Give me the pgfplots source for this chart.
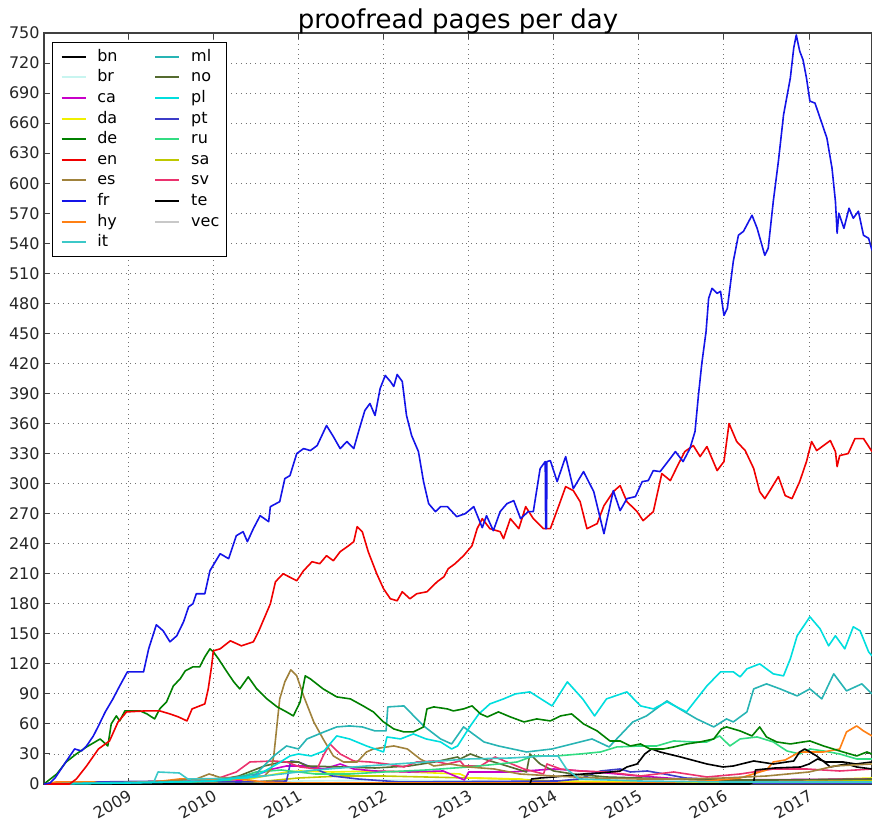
\documentclass[border=0pt]{standalone}
\usepackage{fontspec}
\setmainfont{DejaVu Sans}
\usepackage{pgfplots}
\pgfplotsset{compat=1.18}
\definecolor{cbn}{RGB}{0,0,0}
\definecolor{cbr}{RGB}{200,245,240}
\definecolor{cca}{RGB}{200,0,200}
\definecolor{cda}{RGB}{240,240,0}
\definecolor{cde}{RGB}{0,128,0}
\definecolor{cen}{RGB}{240,0,0}
\definecolor{ces}{RGB}{160,130,60}
\definecolor{cfr}{RGB}{20,20,232}
\definecolor{chy}{RGB}{255,128,20}
\definecolor{cit}{RGB}{60,200,200}
\definecolor{cml}{RGB}{40,180,180}
\definecolor{cno}{RGB}{85,107,47}
\definecolor{cpl}{RGB}{0,222,222}
\definecolor{cpt}{RGB}{60,60,200}
\definecolor{cru}{RGB}{50,220,130}
\definecolor{csa}{RGB}{190,200,0}
\definecolor{csv}{RGB}{235,50,110}
\definecolor{cte}{RGB}{0,0,0}
\definecolor{cvec}{RGB}{200,200,200}
\begin{document}
\begin{tikzpicture}
\begin{axis}[
  at={(0,0)}, anchor=south west,
  scale only axis, width=414pt, height=375.5pt,
  xmin=2008.01, xmax=2017.74, ymin=0, ymax=750,
  xtick={2009,2010,2011,2012,2013,2014,2015,2016,2017},
  ytick={0,30,...,750},
  /pgf/number format/1000 sep={},
  /pgf/number format/assume math mode=true,
  ticklabel style={font=\fontsize{8}{9.6}\selectfont, black!85},
  xticklabel style={rotate=30, anchor=north east, inner sep=1.5pt},
  yticklabel style={inner sep=2pt},
  grid=major,
  major grid style={dotted, black!55, line width=0.45pt},
  tick align=inside, major tick length=3pt,
  tick style={black!75, line width=0.5pt},
  axis line style={black!75, line width=0.9pt},
  title={proofread pages per day},
  title style={anchor=base, yshift=-3.5pt, inner sep=0pt, font=\fontsize{13}{15}\selectfont},
  every axis plot/.append style={line width=0.8pt, line join=round},
  legend columns=2,
  legend cell align=left,
  legend image code/.code={\path (0pt,0pt); \draw[#1, line width=1pt] (2.5pt,0pt) -- (14.5pt,0pt); \path (18pt,0pt);},
  legend style={at={(0.0097,0.988)}, anchor=north west, draw=black, fill=white,
    line width=0.7pt,
    font=\fontsize{8}{9}\selectfont, column sep=0pt, row sep=0.2pt,
    inner xsep=1.5pt, inner ysep=2pt,
    nodes={inner ysep=1pt, text height=6.3pt, text depth=1.8pt},
    /tikz/every even column/.append style={column sep=14pt}},
]
% ---------- small series ----------
\addplot[cvec, forget plot] coordinates {(2008.01,0) (2011,1) (2013,2) (2015,1) (2017.74,2)};
\addplot[cbr, forget plot] coordinates {(2008.01,0) (2010.5,1) (2011,3) (2012,4) (2013,3) (2014,2) (2017.74,1)};
\addplot[csa, forget plot] coordinates {(2008.01,0) (2010.5,2) (2011,6) (2011.5,8) (2012,8) (2012.5,7) (2013,6) (2013.5,5) (2014,3) (2015,2) (2016,2) (2017,3) (2017.74,4)};
\addplot[cda, forget plot] coordinates {(2008.01,0) (2010.3,3) (2010.86,12) (2011.02,13) (2011.4,12) (2011.9,13) (2012.3,12) (2012.9,10) (2013.0,6) (2013.6,5) (2013.85,2) (2016.5,2) (2016.97,4) (2017.74,6)};
\addplot[cca, forget plot] coordinates {(2008.01,0) (2010.3,3) (2010.7,15) (2010.86,18) (2011.1,18) (2011.3,15) (2011.49,20) (2011.65,15) (2011.9,13) (2012.3,12) (2012.7,13) (2012.95,4) (2013.0,12) (2013.5,12) (2014.0,15) (2014.5,12) (2015,8) (2015.5,5) (2016,4) (2017.74,5)};
\addplot[cpt, forget plot] coordinates {(2008.01,0) (2008.6,2) (2009.5,3) (2010.3,2) (2010.86,3) (2010.89,15) (2010.91,23) (2011.0,22) (2011.2,15) (2011.4,8) (2011.7,5) (2012.2,2) (2014.04,3) (2014.3,5) (2014.55,13) (2014.78,15) (2014.9,12) (2015.1,13) (2015.3,10) (2015.55,6) (2015.8,5) (2016.1,3) (2016.3,1) (2017.74,1)};
\addplot[cno, forget plot] coordinates {(2008.01,0) (2009.5,1) (2010.0,3) (2010.3,8) (2010.6,18) (2010.8,22) (2011.0,22) (2011.1,18) (2011.5,17) (2011.9,16) (2012.3,18) (2012.6,22) (2012.87,27) (2012.9,25) (2013.02,30) (2013.18,25) (2013.45,18) (2013.68,12) (2013.72,30) (2013.84,20) (2014.0,13) (2014.23,10) (2014.62,7) (2015.02,6) (2015.8,4) (2016.58,4) (2017.74,5)};
\addplot[csv, forget plot] coordinates {(2008.01,0) (2009.5,1) (2010.0,4) (2010.27,12) (2010.43,22) (2010.71,23) (2010.86,22) (2011.02,17) (2011.22,15) (2011.29,28) (2011.37,40) (2011.49,30) (2011.65,23) (2011.84,22) (2012.04,20) (2012.24,17) (2012.39,22) (2012.59,23) (2012.75,20) (2012.90,23) (2012.95,18) (2013.14,18) (2013.31,27) (2013.45,22) (2013.65,15) (2013.88,10) (2013.92,20) (2014.08,15) (2014.31,13) (2014.62,12) (2015.02,8) (2015.41,12) (2015.80,7) (2016.19,10) (2016.58,15) (2016.97,15) (2017.36,13) (2017.74,15)};
\addplot[cru, forget plot] coordinates {(2008.01,0) (2009.5,1) (2010.2,4) (2010.5,12) (2010.8,14) (2011.2,10) (2011.6,10) (2012.0,12) (2012.5,14) (2013.0,17) (2013.35,20) (2013.57,22) (2013.76,28) (2014.03,28) (2014.31,30) (2014.55,32) (2014.74,37) (2015.02,38) (2015.21,38) (2015.41,43) (2015.64,42) (2015.80,42) (2015.95,48) (2016.07,38) (2016.19,45) (2016.39,47) (2016.58,42) (2016.74,33) (2016.89,30) (2017.01,35) (2017.17,33) (2017.36,30) (2017.56,25) (2017.74,25)};
\addplot[chy, forget plot] coordinates {(2008.01,0) (2008.15,2) (2008.6,2) (2008.7,0) (2009.4,3) (2009.6,5) (2010.3,5) (2010.6,2) (2011,1) (2015,1) (2015.8,3) (2016.19,6) (2016.50,14) (2016.58,22) (2016.72,24) (2016.89,32) (2017.17,32) (2017.36,35) (2017.44,52) (2017.56,58) (2017.64,53) (2017.74,48)};
\addplot[cbn, forget plot] coordinates {(2008.01,0) (2016.3,0) (2016.35,2) (2016.37,14) (2016.6,16) (2016.9,17) (2017.0,20) (2017.1,25) (2017.2,22) (2017.4,22) (2017.55,20) (2017.74,22)};
\addplot[cte, forget plot] coordinates {(2008.01,0) (2013.72,0) (2013.74,5) (2013.84,6) (2014.0,7) (2014.35,10) (2014.55,11) (2014.78,13) (2014.86,17) (2014.98,20) (2015.07,30) (2015.15,35) (2015.25,32) (2015.49,27) (2015.80,20) (2015.99,17) (2016.11,18) (2016.35,23) (2016.58,20) (2016.82,23) (2016.89,32) (2016.95,35) (2017.09,28) (2017.25,17) (2017.44,20) (2017.56,17) (2017.74,15)};
\addplot[ces, forget plot] coordinates {(2008.01,0) (2009.3,2) (2009.8,5) (2009.95,10) (2010.1,6) (2010.6,8) (2010.68,15) (2010.71,28) (2010.78,85) (2010.84,102) (2010.91,114) (2010.98,108) (2011.06,88) (2011.18,62) (2011.29,45) (2011.41,28) (2011.53,22) (2011.69,22) (2011.80,32) (2011.88,35) (2012.12,38) (2012.28,35) (2012.43,25) (2012.59,18) (2012.78,20) (2013.0,17) (2013.3,15) (2013.6,10) (2014,8) (2014.5,6) (2015,5) (2015.5,5) (2016,6) (2016.5,8) (2017,12) (2017.3,18) (2017.74,20)};
\addplot[cit, forget plot] coordinates {(2008.01,0) (2009.3,2) (2009.35,12) (2009.6,11) (2009.7,5) (2010.4,6) (2010.8,10) (2011.2,14) (2011.8,18) (2012.5,22) (2013.0,25) (2013.5,26) (2013.9,28) (2014.05,28) (2014.15,15) (2014.3,5) (2015,3) (2016,2) (2017.74,2)};
\addplot[cml, forget plot] coordinates {(2008.01,0) (2009,1) (2010,3) (2010.5,10) (2010.71,28) (2010.86,38) (2011.0,35) (2011.1,45) (2011.3,52) (2011.45,57) (2011.6,58) (2011.75,57) (2011.9,53) (2012.03,53) (2012.05,77) (2012.24,78) (2012.47,58) (2012.67,45) (2012.80,40) (2012.94,57) (2013.18,42) (2013.35,38) (2013.68,32) (2013.98,35) (2014.45,45) (2014.65,37) (2014.93,62) (2015.09,68) (2015.33,83) (2015.48,75) (2015.68,65) (2015.88,57) (2016.03,65) (2016.11,62) (2016.27,72) (2016.35,95) (2016.50,100) (2016.66,95) (2016.86,88) (2017.01,95) (2017.15,85) (2017.29,110) (2017.44,93) (2017.62,100) (2017.74,90)};
\addplot[cpl, forget plot] coordinates {(2008.01,0) (2009.0,1) (2010.0,3) (2010.5,8) (2010.75,20) (2010.9,28) (2011.0,30) (2011.15,28) (2011.3,33) (2011.45,48) (2011.6,45) (2011.8,38) (2012.0,32) (2012.04,47) (2012.2,45) (2012.35,50) (2012.5,45) (2012.67,42) (2012.8,35) (2012.87,38) (2013.02,58) (2013.12,70) (2013.25,80) (2013.41,85) (2013.55,90) (2013.72,92) (2013.98,78) (2014.16,102) (2014.34,85) (2014.48,68) (2014.62,85) (2014.86,92) (2015.02,78) (2015.17,75) (2015.33,82) (2015.56,72) (2015.68,85) (2015.80,98) (2015.96,112) (2016.11,112) (2016.19,107) (2016.27,115) (2016.42,120) (2016.58,110) (2016.70,108) (2016.78,125) (2016.86,148) (2017.01,167) (2017.13,155) (2017.23,138) (2017.31,148) (2017.42,135) (2017.52,157) (2017.60,153) (2017.70,132) (2017.74,128)};
\addplot[cde, forget plot] coordinates {(2008.01,0) (2008.16,10) (2008.27,22) (2008.39,30) (2008.51,37) (2008.67,45) (2008.76,38) (2008.80,60) (2008.86,68) (2008.90,63) (2008.96,73) (2009.14,73) (2009.22,70) (2009.31,65) (2009.37,75) (2009.45,82) (2009.53,98) (2009.61,105) (2009.67,113) (2009.76,117) (2009.84,117) (2009.90,127) (2009.96,135) (2010.00,132) (2010.06,125) (2010.16,112) (2010.24,102) (2010.31,95) (2010.41,107) (2010.51,95) (2010.63,85) (2010.75,77) (2010.86,72) (2010.94,68) (2011.02,82) (2011.08,108) (2011.14,105) (2011.29,95) (2011.45,87) (2011.61,85) (2011.76,78) (2011.88,72) (2012.00,62) (2012.12,55) (2012.24,52) (2012.35,52) (2012.47,57) (2012.51,75) (2012.59,77) (2012.75,75) (2012.82,73) (2012.94,75) (2013.04,78) (2013.14,70) (2013.22,67) (2013.35,72) (2013.49,67) (2013.65,62) (2013.80,65) (2013.96,63) (2014.08,68) (2014.21,70) (2014.35,60) (2014.51,53) (2014.66,43) (2014.78,43) (2014.90,38) (2015.02,40) (2015.13,35) (2015.29,35) (2015.41,37) (2015.56,40) (2015.72,42) (2015.88,45) (2015.97,55) (2016.03,57) (2016.19,53) (2016.33,48) (2016.42,57) (2016.50,47) (2016.62,42) (2016.78,40) (2016.93,42) (2017.01,43) (2017.17,38) (2017.36,33) (2017.56,28) (2017.68,32) (2017.74,30)};
\addplot[cen, forget plot] coordinates {(2008.01,0) (2008.31,0) (2008.39,5) (2008.51,18) (2008.65,35) (2008.78,43) (2008.88,62) (2008.98,72) (2009.20,73) (2009.37,73) (2009.49,70) (2009.59,67) (2009.69,63) (2009.75,75) (2009.90,80) (2009.94,95) (2009.98,118) (2010.00,133) (2010.08,135) (2010.20,143) (2010.33,138) (2010.47,142) (2010.53,152) (2010.63,172) (2010.67,180) (2010.73,202) (2010.82,210) (2010.98,203) (2011.06,213) (2011.16,222) (2011.25,220) (2011.33,228) (2011.41,223) (2011.49,232) (2011.59,238) (2011.65,242) (2011.69,257) (2011.75,252) (2011.82,232) (2011.92,210) (2012.00,195) (2012.08,185) (2012.16,183) (2012.22,192) (2012.31,185) (2012.39,190) (2012.51,192) (2012.63,202) (2012.71,207) (2012.76,215) (2012.84,220) (2012.94,228) (2013.04,238) (2013.10,255) (2013.16,265) (2013.25,255) (2013.37,252) (2013.41,245) (2013.49,265) (2013.59,255) (2013.67,277) (2013.76,265) (2013.88,255) (2013.96,255) (2014.06,278) (2014.14,297) (2014.23,293) (2014.31,282) (2014.39,255) (2014.51,260) (2014.59,278) (2014.70,292) (2014.78,298) (2014.86,282) (2014.98,272) (2015.05,263) (2015.17,272) (2015.27,310) (2015.37,303) (2015.45,317) (2015.54,332) (2015.64,338) (2015.72,327) (2015.80,337) (2015.92,313) (2016.00,322) (2016.06,360) (2016.15,342) (2016.25,333) (2016.35,315) (2016.42,292) (2016.48,285) (2016.54,293) (2016.64,307) (2016.72,288) (2016.80,285) (2016.89,302) (2016.97,322) (2017.03,342) (2017.09,333) (2017.17,338) (2017.25,343) (2017.31,332) (2017.33,317) (2017.36,328) (2017.46,330) (2017.54,345) (2017.64,345) (2017.74,332)};
\addplot[cfr, forget plot] coordinates {(2008.01,0) (2008.08,1) (2008.14,6) (2008.25,20) (2008.37,35) (2008.45,33) (2008.51,38) (2008.59,48) (2008.65,58) (2008.73,72) (2008.82,85) (2008.90,98) (2008.99,112) (2009.18,112) (2009.24,135) (2009.33,159) (2009.41,153) (2009.49,142) (2009.57,148) (2009.65,162) (2009.71,177) (2009.76,180) (2009.80,190) (2009.90,190) (2009.96,213) (2010.08,230) (2010.18,225) (2010.27,248) (2010.35,252) (2010.40,242) (2010.47,255) (2010.55,268) (2010.65,262) (2010.67,277) (2010.78,282) (2010.84,305) (2010.90,308) (2010.98,330) (2011.06,335) (2011.14,333) (2011.22,338) (2011.33,358) (2011.41,347) (2011.49,335) (2011.57,342) (2011.65,335) (2011.71,353) (2011.78,373) (2011.84,380) (2011.90,368) (2011.96,395) (2012.02,408) (2012.08,402) (2012.12,397) (2012.16,409) (2012.22,402) (2012.27,368) (2012.33,348) (2012.41,332) (2012.47,302) (2012.53,280) (2012.61,272) (2012.67,277) (2012.75,277) (2012.86,267) (2012.96,270) (2013.06,277) (2013.16,256) (2013.21,268) (2013.29,253) (2013.37,272) (2013.45,280) (2013.53,283) (2013.61,265) (2013.70,272) (2013.76,272) (2013.84,315) (2013.90,322) (2013.905,255) (2013.915,255) (2013.92,322) (2013.96,323) (2014.04,302) (2014.14,327) (2014.23,295) (2014.35,312) (2014.47,292) (2014.59,250) (2014.70,293) (2014.78,273) (2014.86,285) (2014.96,287) (2015.04,302) (2015.11,303) (2015.17,313) (2015.25,312) (2015.35,323) (2015.43,332) (2015.52,322) (2015.60,335) (2015.66,352) (2015.70,388) (2015.74,420) (2015.79,452) (2015.82,485) (2015.86,495) (2015.92,490) (2015.96,492) (2016.00,468) (2016.04,475) (2016.11,522) (2016.17,548) (2016.23,552) (2016.33,568) (2016.39,555) (2016.48,528) (2016.52,535) (2016.58,582) (2016.64,622) (2016.70,668) (2016.78,705) (2016.82,735) (2016.85,748) (2016.89,732) (2016.93,723) (2016.97,705) (2017.01,682) (2017.07,680) (2017.13,665) (2017.21,645) (2017.27,615) (2017.31,582) (2017.33,550) (2017.35,570) (2017.41,555) (2017.47,575) (2017.52,565) (2017.58,572) (2017.64,548) (2017.70,545) (2017.74,533)};
% ---------- legend (column-wise order) ----------
\addlegendimage{cbn}\addlegendentry{bn}
\addlegendimage{cml}\addlegendentry{ml}
\addlegendimage{cbr}\addlegendentry{br}
\addlegendimage{cno}\addlegendentry{no}
\addlegendimage{cca}\addlegendentry{ca}
\addlegendimage{cpl}\addlegendentry{pl}
\addlegendimage{cda}\addlegendentry{da}
\addlegendimage{cpt}\addlegendentry{pt}
\addlegendimage{cde}\addlegendentry{de}
\addlegendimage{cru}\addlegendentry{ru}
\addlegendimage{cen}\addlegendentry{en}
\addlegendimage{csa}\addlegendentry{sa}
\addlegendimage{ces}\addlegendentry{es}
\addlegendimage{csv}\addlegendentry{sv}
\addlegendimage{cfr}\addlegendentry{fr}
\addlegendimage{cte}\addlegendentry{te}
\addlegendimage{chy}\addlegendentry{hy}
\addlegendimage{cvec}\addlegendentry{vec}
\addlegendimage{cit}\addlegendentry{it}
\end{axis}
\pgfresetboundingbox
\useasboundingbox (-22pt,-18.5pt) rectangle (414pt,392pt);
\end{tikzpicture}
\end{document}
